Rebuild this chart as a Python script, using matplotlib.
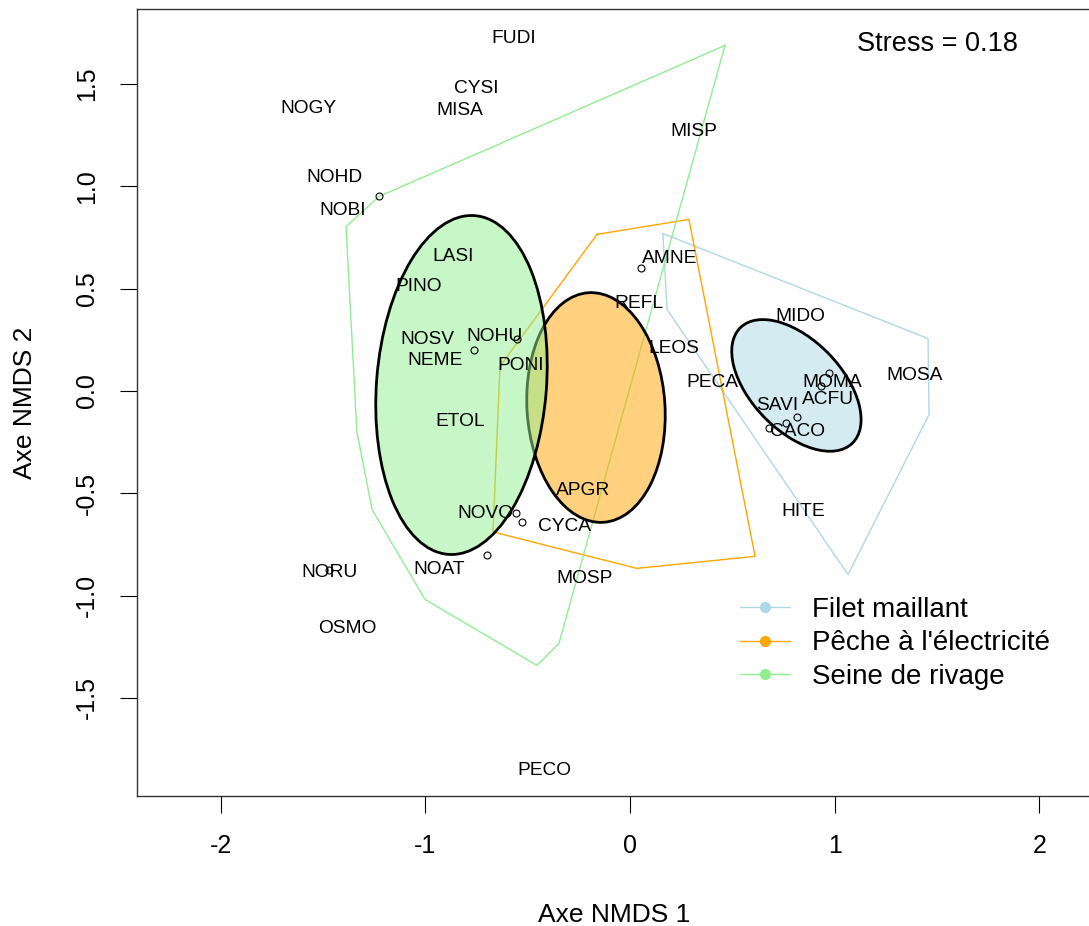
import matplotlib
matplotlib.use("Agg")
import matplotlib.pyplot as plt
from matplotlib.patches import Ellipse
from matplotlib.lines import Line2D
from matplotlib.colors import to_rgba

plt.rcParams['font.family'] = ['Liberation Sans', 'DejaVu Sans']
plt.rcParams['axes.unicode_minus'] = False

# species scores (label positions)
species = ["FUDI", "CYSI", "MISA", "NOGY", "MISP", "NOHD", "NOBI", "LASI", "AMNE",
           "PINO", "REFL", "MIDO", "NOSV", "NOHU", "LEOS", "NEME", "PONI", "PECA",
           "MOMA", "MOSA", "ACFU", "SAVI", "ETOL", "CACO", "APGR", "HITE", "NOVO",
           "CYCA", "NORU", "NOAT", "MOSP", "OSMO", "PECO"]
sp_x = [-0.570, -0.749, -0.833, -1.573, 0.313, -1.446, -1.402, -0.866, 0.195,
        -1.033, 0.043, 0.830, -0.988, -0.661, 0.215, -0.950, -0.533, 0.403,
        0.987, 1.392, 0.966, 0.718, -0.828, 0.816, -0.230, 0.845, -0.704,
        -0.322, -1.467, -0.931, -0.221, -1.383, -0.420]
sp_y = [1.720, 1.478, 1.370, 1.378, 1.268, 1.043, 0.882, 0.657, 0.647,
        0.508, 0.427, 0.364, 0.252, 0.264, 0.205, 0.149, 0.125, 0.043,
        0.042, 0.076, -0.041, -0.069, -0.148, -0.198, -0.486, -0.589, -0.601,
        -0.664, -0.885, -0.872, -0.918, -1.160, -1.852]

# small open circles
pt_x = [-1.226, 0.054, -0.762, -0.552, 0.972, 0.933, 0.816, 0.762, 0.679,
        -0.557, -0.528, -0.699, -1.470]
pt_y = [0.950, 0.603, 0.198, 0.256, 0.090, 0.022, -0.129, -0.159, -0.183,
        -0.598, -0.642, -0.804, -0.877]

# groups
groups = ["Filet maillant", "Pêche à l'électricité", "Seine de rivage"]
colors = ["lightblue", "orange", "lightgreen"]

# convex hulls
hull_filet_x = [0.161, 1.456, 1.461, 1.065, 0.181]
hull_filet_y = [0.769, 0.256, -0.115, -0.897, 0.398]
hull_peche_x = [-0.161, 0.288, 0.611, 0.034, -0.669, -0.635]
hull_peche_y = [0.765, 0.838, -0.808, -0.867, -0.689, 0.120]
hull_seine_x = [0.464, -1.226, -1.387, -1.334, -1.260, -1.001, -0.454, -0.347]
hull_seine_y = [1.688, 0.950, 0.803, -0.198, -0.579, -1.019, -1.341, -1.234]

# ellipses: centre, semi-axes, angle
ell_cx = [0.813, -0.166, -0.823]
ell_cy = [0.027, -0.081, 0.029]
ell_a = [0.393, 0.562, 0.830]
ell_b = [0.221, 0.337, 0.415]
ell_angle = [-46, 93.7, 85.5]

stress_text = "Stress = 0.18"

fig = plt.figure(figsize=(10.89, 9.26), dpi=100)
ax = fig.add_axes([137/1089, 130/926, 954/1089, 787/926])
ax.set_xlim(-2.408, 2.252)
ax.set_ylim(-1.979, 1.866)

hulls = [(hull_filet_x, hull_filet_y), (hull_peche_x, hull_peche_y), (hull_seine_x, hull_seine_y)]
for (hx, hy), c in zip(hulls, colors):
    ax.plot(hx + hx[:1], hy + hy[:1], color=c, lw=1, zorder=1)

for i in range(3):
    e = Ellipse((ell_cx[i], ell_cy[i]), 2*ell_a[i], 2*ell_b[i], angle=ell_angle[i],
                facecolor=to_rgba(colors[i], 0.5), edgecolor='black', lw=2, zorder=2)
    ax.add_patch(e)

ax.plot(pt_x, pt_y, 'o', mfc='none', mec='black', ms=5, mew=0.8, zorder=3)

for name, x, y in zip(species, sp_x, sp_y):
    ax.text(x, y, name, ha='center', va='center', fontsize=13.8, zorder=4)

ax.text(1.50, 1.693, stress_text, ha='center', va='center', fontsize=19.5)

ax.set_xticks([-2, -1, 0, 1, 2])
ax.set_yticks([-1.5, -1.0, -0.5, 0.0, 0.5, 1.0, 1.5])
ax.set_yticklabels(["-1.5", "-1.0", "-0.5", "0.0", "0.5", "1.0", "1.5"])
ax.tick_params(length=12, width=0.8, pad=15.5, labelsize=18)
ax.tick_params(axis='y', labelrotation=90)
for lab in ax.get_yticklabels():
    lab.set_va('center')
for s in ax.spines.values():
    s.set_linewidth(1)
    s.set_color('#333333')

ax.set_xlabel("Axe NMDS 1", fontsize=19, labelpad=32)
ax.set_ylabel("Axe NMDS 2", fontsize=19, labelpad=27)

handles = [Line2D([0], [0], color=c, marker='o', ms=7, lw=1) for c in colors]
ax.legend(handles, groups, loc='upper left', bbox_to_anchor=(740/1089, 1 - 597/926),
          bbox_transform=fig.transFigure, frameon=False, fontsize=20,
          handlelength=1.8, handletextpad=0.8, labelspacing=0.27,
          borderpad=0, borderaxespad=0)

fig.savefig("out.png", dpi=100)
